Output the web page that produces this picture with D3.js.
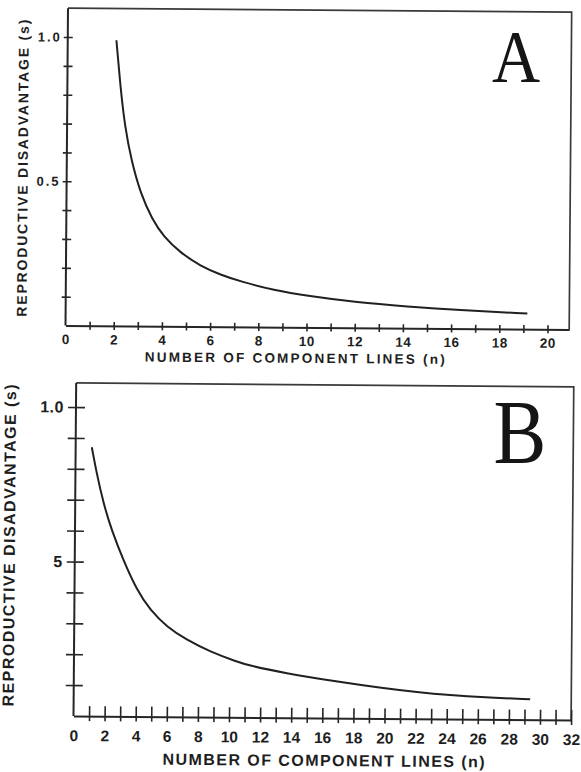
<!DOCTYPE html>
<html>
<head>
<meta charset="utf-8">
<script src="https://cdn.jsdelivr.net/npm/d3@7"></script>
<style>
  body { margin: 0; background: #fff; }
  svg { display: block; }
  text { font-family: "Liberation Sans", Arial, sans-serif; font-weight: bold; fill: #1e1e1e; }
</style>
</head>
<body>
<div id="chart"></div>
<script>
// Panel A : valeurs (n, s)
const nA = [2.02, 2.2, 2.4, 2.69, 3.07, 3.56, 4.05, 4.75, 5.58, 6.42, 7.26, 8.64, 10.03, 12.1, 14.18, 16.25, 19.16];
const sA = [0.99, 0.83, 0.69, 0.57, 0.46, 0.37, 0.31, 0.255, 0.21, 0.18, 0.157, 0.128, 0.109, 0.0875, 0.075, 0.064, 0.054];
const xTicksA = [0, 1, 2, 3, 4, 5, 6, 7, 8, 9, 10, 11, 12, 13, 14, 15, 16, 17, 18, 19, 20];
const xLabelsA = [0, 2, 4, 6, 8, 10, 12, 14, 16, 18, 20];
const yTicksA = [0.1, 0.2, 0.3, 0.4, 0.5, 0.6, 0.7, 0.8, 0.9, 1.0];
const yLabelValsA = [0.5, 1.0];
const yLabelTextA = ["0.5", "1.0"];

// Panel B
const nB = [1.04, 1.37, 1.81, 2.37, 3.13, 4.0, 4.87, 5.95, 7.24, 8.75, 10.47, 11.35, 13.49, 16.93, 19.92, 22.07, 24.21, 26.35, 29.36];
const sB = [0.87, 0.785, 0.69, 0.6, 0.505, 0.41, 0.345, 0.291, 0.249, 0.212, 0.18, 0.167, 0.145, 0.118, 0.098, 0.086, 0.077, 0.071, 0.066];
const xTicksB = [0, 1, 2, 3, 4, 5, 6, 7, 8, 9, 10, 11, 12, 13, 14, 15, 16, 17, 18, 19, 20, 21, 22, 23, 24, 25, 26, 27, 28, 29, 30, 31, 32];
const xLabelsB = [0, 2, 4, 6, 8, 10, 12, 14, 16, 18, 20, 22, 24, 26, 28, 30, 32];
const yTicksB = [0.1, 0.2, 0.3, 0.4, 0.5, 0.6, 0.7, 0.8, 0.9, 1.0];
const yLabelValsB = [0.5, 1.0];
const yLabelTextB = ["5", "1.0"];   // "5" tel quel sur l'original

const xTitle = "NUMBER OF COMPONENT LINES (n)";
const yTitle = "REPRODUCTIVE DISADVANTAGE (s)";

const ink = "#262626";

const svg = d3.select("#chart").append("svg")
    .attr("width", 581)
    .attr("height", 772);

function drawPanel(p) {
    // 1. Echelles
    const x = d3.scaleLinear().domain([0, p.xMax]).range([p.x0, p.x0 + p.xMax * p.kx]);
    const y = d3.scaleLinear().domain([0, p.yMax]).range([p.y0, p.y0 - p.yMax * p.ky]);

    // légère rotation du scan
    const g = svg.append("g").attr("transform", `rotate(${p.angle}, ${p.x0}, ${p.y0})`);

    // 2. Cadre haut + droite
    g.append("path")
        .attr("d", `M${x(0)},${y(p.yMax)}H${x(p.xMax)}V${y(0)}`)
        .attr("fill", "none")
        .attr("stroke", "#3a3a3a")
        .attr("stroke-width", 1.7);

    // 3. Axe X
    const ax = g.append("g")
        .attr("transform", `translate(0,${y(0)})`)
        .attr("color", ink)
        .call(d3.axisBottom(x)
            .tickValues(p.xTicks)
            .tickSizeInner(p.xDown)
            .tickSizeOuter(0)
            .tickPadding(p.xPad)
            .tickFormat(d => p.xLabels.includes(d) ? String(d) : ""));
    ax.select(".domain").attr("stroke-width", 2);
    ax.selectAll(".tick line")
        .attr("y1", -p.xUp)
        .attr("stroke-width", 1.6)
        .attr("opacity", d => d === 0 ? 0 : 1);
    ax.selectAll(".tick text")
        .style("font-size", p.tickFont + "px")
        .style("letter-spacing", p.xSpacing + "px");

    // 4. Axe Y
    const ay = g.append("g")
        .attr("transform", `translate(${x(0)},0)`)
        .attr("color", ink)
        .call(d3.axisLeft(y)
            .tickValues(p.yTicks)
            .tickSizeInner(p.yLeft)
            .tickSizeOuter(0)
            .tickPadding(p.yPad)
            .tickFormat(d => {
                const i = p.yLabelVals.findIndex(v => Math.abs(v - d) < 1e-9);
                return i >= 0 ? p.yLabelText[i] : "";
            }));
    ay.select(".domain").attr("d", `M0,${y(0)}V${y(p.yMax)}`).attr("stroke-width", 2);
    ay.selectAll(".tick line")
        .attr("x1", p.yRight)
        .attr("stroke-width", 1.6);
    ay.selectAll(".tick text")
        .style("font-size", p.yFont + "px")
        .style("letter-spacing", p.ySpacing + "px");

    // 5. Courbe (lissée, les points lus sont un peu bruités)
    const line = d3.line()
        .x(d => x(d[0]))
        .y(d => y(d[1]))
        .curve(d3.curveBasis);
    g.append("path")
        .datum(p.n.map((v, i) => [v, p.s[i]]))
        .attr("d", line)
        .attr("fill", "none")
        .attr("stroke", "#202020")
        .attr("stroke-width", 2);

    // 6. Titres des axes
    g.append("text")
        .attr("x", p.xt.x)
        .attr("y", p.xt.y)
        .attr("text-anchor", "middle")
        .attr("textLength", p.xt.len)
        .attr("lengthAdjust", "spacing")
        .style("font-size", p.xt.size + "px")
        .text(xTitle);

    g.append("text")
        .attr("transform", `translate(${p.yt.x},${p.yt.y}) rotate(-90)`)
        .attr("text-anchor", "middle")
        .attr("textLength", p.yt.len)
        .attr("lengthAdjust", "spacing")
        .style("font-size", p.yt.size + "px")
        .text(yTitle);

    // 7. Lettre du panneau
    svg.append("text")
        .attr("transform", `translate(${p.letter.x},${p.letter.y}) scale(${p.letter.sx},1)`)
        .attr("text-anchor", "middle")
        .style("font-family", "'Liberation Serif', 'Times New Roman', serif")
        .style("font-weight", "normal")
        .style("font-size", p.letter.size + "px")
        .style("fill", "#151515")
        .text(p.letter.t);
}

drawPanel({
    n: nA, s: sA,
    x0: 65.5, y0: 325.5, kx: 24.1, ky: 288.5, xMax: 20.9, yMax: 1.1, angle: 0.45,
    xTicks: xTicksA, xLabels: xLabelsA, xDown: 4, xUp: 4, xPad: 5, tickFont: 13.5, xSpacing: 0.5,
    yTicks: yTicksA, yLabelVals: yLabelValsA, yLabelText: yLabelTextA,
    yLeft: 4, yRight: 5, yPad: 2, yFont: 13, ySpacing: 2,
    xt: { x: 295, y: 361, len: 300, size: 13.5 },
    yt: { x: 26.5, y: 168.5, len: 297, size: 14 },
    letter: { t: "A", x: 516, y: 82, size: 74, sx: 0.9 }
});

drawPanel({
    n: nB, s: sB,
    x0: 73.5, y0: 716, kx: 15.55, ky: 309, xMax: 32, yMax: 1.078, angle: 0.46,
    xTicks: xTicksB, xLabels: xLabelsB, xDown: 5, xUp: 10, xPad: 9, tickFont: 15.5, xSpacing: 0,
    yTicks: yTicksB, yLabelVals: yLabelValsB, yLabelText: yLabelTextB,
    yLeft: 8, yRight: 9, yPad: 4, yFont: 16, ySpacing: 0.5,
    xt: { x: 324, y: 764, len: 322, size: 16 },
    yt: { x: 13.5, y: 546, len: 322, size: 16 },
    letter: { t: "B", x: 520, y: 463, size: 90, sx: 0.88 }
});
</script>
</body>
</html>
